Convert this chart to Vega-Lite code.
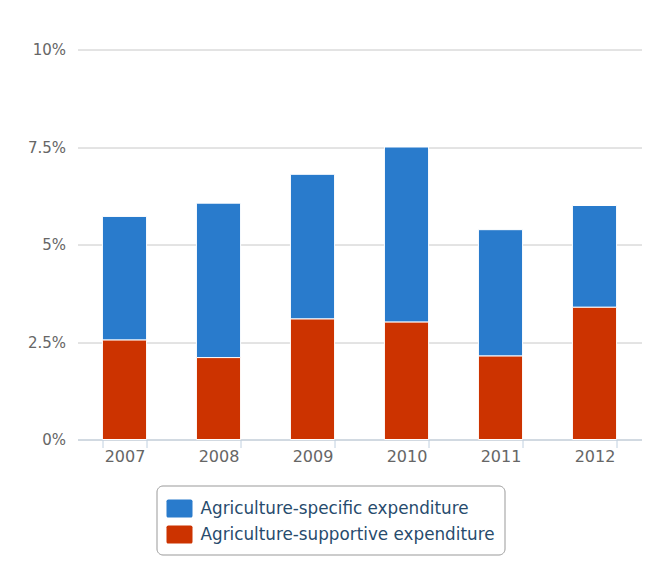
{
  "$schema": "https://vega.github.io/schema/vega-lite/v6.json",
  "width": 564,
  "height": 390,
  "autosize": "none",
  "padding": {"left": 77.5, "top": 49.5, "right": 4.5, "bottom": 125.5},
  "background": "white",
  "data": {
    "values": [
      {"year": "2007", "series": "Agriculture-specific expenditure", "value": 3.17},
      {"year": "2007", "series": "Agriculture-supportive expenditure", "value": 2.55},
      {"year": "2008", "series": "Agriculture-specific expenditure", "value": 3.96},
      {"year": "2008", "series": "Agriculture-supportive expenditure", "value": 2.1},
      {"year": "2009", "series": "Agriculture-specific expenditure", "value": 3.71},
      {"year": "2009", "series": "Agriculture-supportive expenditure", "value": 3.09},
      {"year": "2010", "series": "Agriculture-specific expenditure", "value": 4.49},
      {"year": "2010", "series": "Agriculture-supportive expenditure", "value": 3.01},
      {"year": "2011", "series": "Agriculture-specific expenditure", "value": 3.24},
      {"year": "2011", "series": "Agriculture-supportive expenditure", "value": 2.14},
      {"year": "2012", "series": "Agriculture-specific expenditure", "value": 2.61},
      {"year": "2012", "series": "Agriculture-supportive expenditure", "value": 3.39}
    ]
  },
  "mark": {"type": "bar", "stroke": "white", "strokeWidth": 1},
  "encoding": {
    "x": {
      "field": "year",
      "type": "ordinal",
      "scale": {"paddingInner": 0.53, "paddingOuter": 0.265},
      "axis": {
        "title": null,
        "labelAngle": 0,
        "domainColor": "#c0d0e0",
        "tickColor": "#c0d0e0",
        "tickBand": "extent",
        "tickSize": 8,
        "labelPadding": 1,
        "labelFont": "DejaVu Sans",
        "labelFontSize": 16,
        "labelColor": "#666666",
        "grid": false
      }
    },
    "y": {
      "field": "value",
      "type": "quantitative",
      "stack": "zero",
      "scale": {"domain": [0, 10], "nice": false},
      "axis": {
        "title": null,
        "values": [0, 2.5, 5, 7.5, 10],
        "labelExpr": "datum.value + '%'",
        "domain": false,
        "ticks": false,
        "labelPadding": 12,
        "labelFont": "DejaVu Sans",
        "labelFontSize": 15,
        "labelColor": "#666666",
        "gridColor": "#c8c8c8",
        "gridWidth": 1
      }
    },
    "color": {
      "field": "series",
      "type": "nominal",
      "scale": {
        "domain": ["Agriculture-specific expenditure", "Agriculture-supportive expenditure"],
        "range": ["#297bcc", "#cc3300"]
      },
      "legend": {
        "title": null,
        "orient": "none",
        "legendX": 79,
        "legendY": 436,
        "direction": "vertical",
        "strokeColor": "#999999",
        "cornerRadius": 6,
        "padding": 10,
        "symbolType": "M-0.85,-0.7H0.85A0.15,0.15 0 0 1 1,-0.55V0.55A0.15,0.15 0 0 1 0.85,0.7H-0.85A0.15,0.15 0 0 1 -1,0.55V-0.55A0.15,0.15 0 0 1 -0.85,-0.7Z",
        "symbolSize": 676,
        "symbolStrokeWidth": 0,
        "symbolOpacity": 1,
        "labelFont": "DejaVu Sans",
        "labelFontSize": 16.8,
        "labelLimit": 500,
        "labelColor": "#274b6d",
        "labelOffset": 8,
        "rowPadding": 3
      }
    },
    "order": {"field": "series", "sort": "descending"}
  },
  "config": {"view": {"stroke": null}}
}
